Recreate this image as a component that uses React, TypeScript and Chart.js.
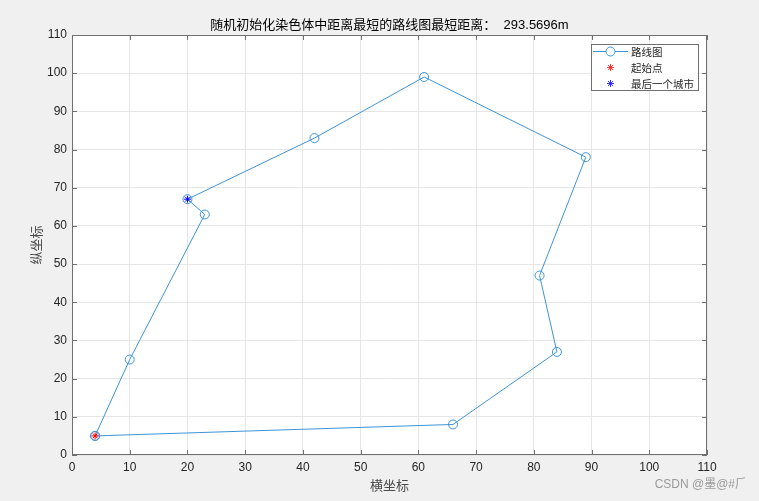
import React, { useEffect, useRef } from "react";
import { Chart, registerables } from "chart.js";

Chart.register(...registerables);

// Route through the cities (closed tour)
const routeX = [4, 66, 84, 81, 89, 61, 42, 20, 23, 10, 4];
const routeY = [5, 8, 27, 47, 78, 99, 83, 67, 63, 25, 5];
const startPoint = { x: 4, y: 5 };
const lastCity = { x: 20, y: 67 };

const axisMin = 0;
const axisMax = 110;
const axisStep = 10;

const titleText = "随机初始化染色体中距离最短的路线图最短距离：  293.5696m";
const xLabel = "横坐标";
const yLabel = "纵坐标";
const legendLabels = ["路线图", "起始点", "最后一个城市"];
const watermark = "CSDN @墨@#⺁";

const LINE_BLUE = "#3f95d8";
const AXIS_COLOR = "#262626";
const BOX_COLOR = "#707070";
const SANS = '"Liberation Sans", Arial, "Noto Sans CJK SC", sans-serif';
const CJK = '"Noto Sans CJK SC", "Liberation Sans", sans-serif';

const matlabStyle = {
  id: "matlabStyle",
  beforeDraw(chart: any) {
    const { ctx, chartArea: a, width, height } = chart;
    ctx.save();
    ctx.fillStyle = "#f0f0f0";
    ctx.fillRect(0, 0, width, height);
    ctx.fillStyle = "#ffffff";
    ctx.fillRect(a.left, a.top, a.right - a.left, a.bottom - a.top);
    ctx.restore();
  },
  afterDraw(chart: any) {
    const { ctx, chartArea: a, scales } = chart;
    const xs = scales.x;
    const ys = scales.y;
    ctx.save();

    // axes box
    ctx.strokeStyle = BOX_COLOR;
    ctx.lineWidth = 1;
    ctx.strokeRect(a.left + 0.5, a.top + 0.5, a.right - a.left - 1, a.bottom - a.top - 1);

    // inward tick marks on all four sides
    const tl = 5;
    ctx.beginPath();
    for (let v = axisMin; v <= axisMax; v += axisStep) {
      const px = Math.round(xs.getPixelForValue(v)) + 0.5;
      ctx.moveTo(px, a.bottom);
      ctx.lineTo(px, a.bottom - tl);
      ctx.moveTo(px, a.top);
      ctx.lineTo(px, a.top + tl);
      const py = Math.round(ys.getPixelForValue(v)) + 0.5;
      ctx.moveTo(a.left, py);
      ctx.lineTo(a.left + tl, py);
      ctx.moveTo(a.right, py);
      ctx.lineTo(a.right - tl, py);
    }
    ctx.stroke();

    // title
    ctx.fillStyle = "#000000";
    ctx.textAlign = "center";
    ctx.textBaseline = "middle";
    ctx.font = `13px ${SANS}`;
    ctx.fillText(titleText, (a.left + a.right) / 2, 25);

    // axis labels
    ctx.fillStyle = "#4a4a4a";
    ctx.font = `13px ${CJK}`;
    ctx.fillText(xLabel, (a.left + a.right) / 2, 485);
    ctx.save();
    ctx.translate(36, (a.top + a.bottom) / 2);
    ctx.rotate(-Math.PI / 2);
    ctx.fillText(yLabel, 0, 0);
    ctx.restore();

    // legend box
    const lx = 591;
    const ly = 44;
    const lw = 107;
    const lh = 46;
    ctx.fillStyle = "#ffffff";
    ctx.fillRect(lx, ly, lw, lh);
    ctx.strokeStyle = BOX_COLOR;
    ctx.strokeRect(lx + 0.5, ly + 0.5, lw, lh);

    const rows = [51, 67, 83];
    const markX = 610.5;
    // route entry
    ctx.strokeStyle = LINE_BLUE;
    ctx.beginPath();
    ctx.moveTo(593, rows[0] + 0.5);
    ctx.lineTo(628, rows[0] + 0.5);
    ctx.stroke();
    ctx.beginPath();
    ctx.arc(markX, rows[0] + 0.5, 4.5, 0, Math.PI * 2);
    ctx.fillStyle = "#ffffff";
    ctx.fill();
    ctx.stroke();
    // star entries
    const drawStar = (cx: number, cy: number, color: string) => {
      const r = 3.5;
      ctx.strokeStyle = color;
      ctx.beginPath();
      for (let k = 0; k < 4; k++) {
        const ang = (k * Math.PI) / 4;
        ctx.moveTo(cx - r * Math.cos(ang), cy - r * Math.sin(ang));
        ctx.lineTo(cx + r * Math.cos(ang), cy + r * Math.sin(ang));
      }
      ctx.stroke();
    };
    drawStar(markX, rows[1] + 0.5, "#ff3030");
    drawStar(markX, rows[2] + 0.5, "#3030ff");

    ctx.fillStyle = AXIS_COLOR;
    ctx.textAlign = "left";
    ctx.font = `10.5px ${CJK}`;
    legendLabels.forEach((t, i) => ctx.fillText(t, 631, rows[i] + 1));

    // watermark
    ctx.fillStyle = "#9a9a9a";
    ctx.textAlign = "right";
    ctx.font = `12px ${SANS}`;
    ctx.fillText(watermark, 747, 485);

    ctx.restore();
  },
};

export default function App() {
  const canvasRef = useRef<HTMLCanvasElement | null>(null);

  useEffect(() => {
    const canvas = canvasRef.current;
    if (!canvas) return;

    const routeData = routeX.map((x, i) => ({ x, y: routeY[i] }));

    const tickCfg = {
      min: axisMin,
      max: axisMax,
      ticks: {
        stepSize: axisStep,
        color: AXIS_COLOR,
        font: { family: SANS, size: 12 },
        padding: 5,
      },
      grid: {
        color: "#e6e6e6",
        drawTicks: false,
      },
      border: { display: false },
    };

    const chart = new Chart(canvas, {
      type: "scatter",
      data: {
        datasets: [
          {
            label: legendLabels[0],
            data: routeData,
            showLine: true,
            borderColor: LINE_BLUE,
            borderWidth: 1,
            pointStyle: "circle",
            pointRadius: 4.5,
            pointBorderColor: LINE_BLUE,
            pointBackgroundColor: "rgba(0,0,0,0)",
            pointBorderWidth: 1,
            order: 3,
          },
          {
            label: legendLabels[1],
            data: [startPoint],
            pointStyle: "star",
            pointRadius: 3.5,
            pointBorderColor: "#ff0000",
            pointBorderWidth: 1,
            borderColor: "#ff0000",
            order: 2,
          },
          {
            label: legendLabels[2],
            data: [lastCity],
            pointStyle: "star",
            pointRadius: 3.5,
            pointBorderColor: "#0000ff",
            pointBorderWidth: 1,
            borderColor: "#0000ff",
            order: 1,
          },
        ],
      },
      options: {
        responsive: false,
        animation: false,
        devicePixelRatio: 1,
        layout: { padding: { top: 35, right: 52, left: 0, bottom: 0 } },
        plugins: {
          legend: { display: false },
          title: { display: false },
          tooltip: { enabled: false },
        },
        scales: {
          x: {
            type: "linear",
            position: "bottom",
            ...tickCfg,
            afterFit: (s: any) => {
              s.height = 46;
            },
          },
          y: {
            type: "linear",
            position: "left",
            ...tickCfg,
            afterFit: (s: any) => {
              s.width = 72;
            },
          },
        },
      },
      plugins: [matlabStyle],
    } as any);

    return () => chart.destroy();
  }, []);

  return (
    <div style={{ position: "fixed", left: 0, top: 0, width: 759, height: 501 }}>
      <canvas ref={canvasRef} width={759} height={501} style={{ display: "block" }} />
    </div>
  );
}
